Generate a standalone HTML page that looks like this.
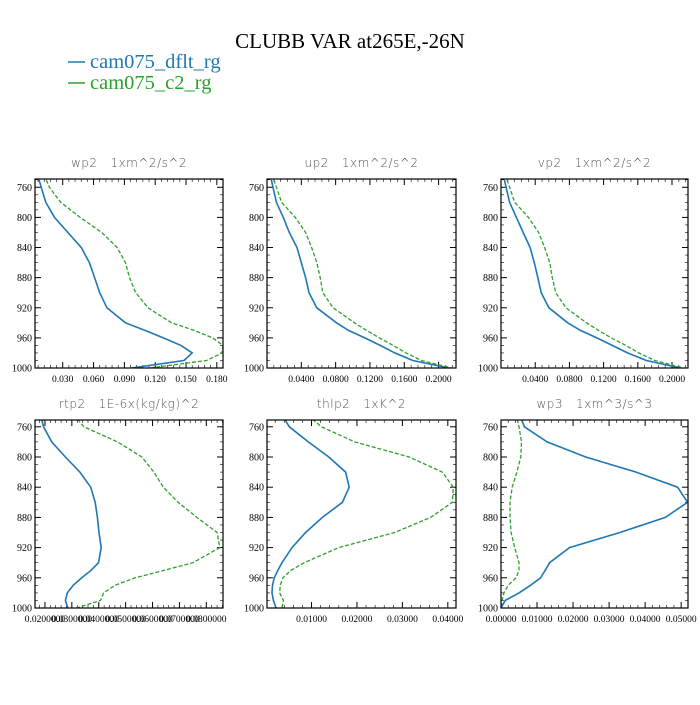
<!DOCTYPE html>
<html><head><meta charset="utf-8"><style>
body{margin:0;background:#fff;width:700px;height:700px;overflow:hidden}
svg text{font-family:"Liberation Serif",serif}
</style></head><body>
<svg id="chart" width="700" height="700" xmlns="http://www.w3.org/2000/svg">
<text x="350" y="48" text-anchor="middle" font-size="21">CLUBB VAR at265E,-26N</text>
<g>
<line x1="68" y1="62" x2="85" y2="62" stroke="#1f77b4" stroke-width="1.5"/>
<text x="90" y="68" font-size="20.5" fill="#1f77b4">cam075_dflt_rg</text>
<line x1="68" y1="83" x2="85" y2="83" stroke="#2ca02c" stroke-width="1.5"/>
<text x="90" y="89" font-size="20.5" fill="#2ca02c">cam075_c2_rg</text>
</g>
</svg>
<script>
const levels=[750,760,780,800,820,840,860,880,900,920,940,950,960,970,980,990,1000];
const yTicks=[760,800,840,880,920,960,1000];
const wp2Dflt=[.007,.009,.0135,.022,.035,.048,.056,.061,.066,.073,.091,.110,.128,.145,.156,.148,.097];
const wp2C2=[.014,.017,.028,.047,.068,.083,.091,.095,.101,.113,.136,.158,.176,.186,.185,.170,.115];
const wp2Ticks=[0.03,0.06,0.09,0.12,0.15,0.18];
const up2Dflt=[.005,.007,.011,.019,.026,.035,.040,.045,.049,.058,.081,.095,.114,.132,.149,.170,.212];
const up2C2=[.008,.011,.017,.033,.045,.052,.058,.062,.065,.077,.102,.116,.131,.147,.162,.180,.215];
const vp2Dflt=[.004,.006,.010,.018,.026,.034,.039,.043,.047,.056,.078,.093,.112,.130,.148,.170,.210];
const vp2C2=[.007,.010,.016,.032,.044,.051,.057,.060,.064,.076,.100,.114,.129,.146,.161,.180,.213];
const uvTicks=[0.04,0.08,0.12,0.16,0.20];
const rtp2Dflt=[.0188,.0195,.0225,.0276,.0330,.0370,.0387,.0395,.0401,.0409,.0399,.0372,.0337,.0305,.0283,.0276,.0285];
const rtp2C2=[.0321,.0345,.0470,.0560,.0605,.0640,.0695,.0765,.0840,.0850,.0750,.0645,.0535,.0460,.0418,.0407,.0318];
const rtp2Ticks=[0.02,0.03,0.04,0.05,0.06,0.07,0.08];
const thlp2Dflt=[.0041,.0051,.0093,.0138,.0175,.0183,.0168,.0124,.0087,.0057,.0035,.0026,.0018,.0014,.0013,.0016,.0022];
const thlp2C2=[.0102,.0122,.0195,.0315,.0388,.0412,.0410,.0362,.0283,.0160,.0084,.0055,.0037,.0031,.0030,.0038,.0035];
const thlp2Ticks=[0.01,0.02,0.03,0.04];
const wp3Dflt=[.0057,.0065,.0128,.0235,.0375,.0490,.0518,.0456,.0330,.0190,.0135,.0123,.0110,.0082,.0050,.0012,0];
const wp3C2=[.0045,.0050,.0057,.0055,.0044,.0031,.0025,.0025,.0028,.0038,.0050,.0050,.0042,.0020,.0008,.0003,0];
const wp3Ticks=[0,0.01,0.02,0.03,0.04,0.05];

const NS='http://www.w3.org/2000/svg';
const svg=document.getElementById('chart');
function mk(tag,attrs,parent){const e=document.createElementNS(NS,tag);for(const k in attrs)e.setAttribute(k,attrs[k]);(parent||svg).appendChild(e);return e;}

const panels=[
 {name:'wp2',title:'wp2   1xm^2/s^2',x0:35,x1:223,y0:179,y1:368,pmin:749,xmin:0.003,xmax:0.186,ticks:wp2Ticks,dec:3,d:wp2Dflt,c:wp2C2},
 {name:'up2',title:'up2   1xm^2/s^2',x0:267,x1:456,y0:179,y1:368,pmin:749,xmin:0.0,xmax:0.2203,ticks:uvTicks,dec:4,d:up2Dflt,c:up2C2},
 {name:'vp2',title:'vp2   1xm^2/s^2',x0:501,x1:688,y0:179,y1:368,pmin:749,xmin:0.0,xmax:0.2187,ticks:uvTicks,dec:4,d:vp2Dflt,c:vp2C2},
 {name:'rtp2',title:'rtp2   1E-6x(kg/kg)^2',x0:35,x1:223,y0:420,y1:608,pmin:751,xmin:0.0163,xmax:0.0862,ticks:rtp2Ticks,dec:7,d:rtp2Dflt,c:rtp2C2},
 {name:'thlp2',title:'thlp2   1xK^2',x0:267,x1:456,y0:420,y1:608,pmin:751,xmin:0.0002,xmax:0.0418,ticks:thlp2Ticks,dec:5,d:thlp2Dflt,c:thlp2C2},
 {name:'wp3',title:'wp3   1xm^3/s^3',x0:501,x1:688,y0:420,y1:608,pmin:751,xmin:0.0,xmax:0.0519,ticks:wp3Ticks,dec:5,d:wp3Dflt,c:wp3C2}
];

panels.forEach(P=>{
 const g=mk('g',{});
 
 
 const xs=v=>P.x0+(v-P.xmin)/(P.xmax-P.xmin)*(P.x1-P.x0);
 const ys=p=>P.y0+(p-P.pmin)/(1000-P.pmin)*(P.y1-P.y0);
 const cp='clip-'+P.name;
 const cl=mk('clipPath',{id:cp},g);
 mk('rect',{x:P.x0,y:P.y0,width:P.x1-P.x0,height:P.y1-P.y0},cl);
 const t=mk('text',{x:(P.x0+P.x1)/2,y:P.y0-12,'text-anchor':'middle','font-size':'12',fill:'#555','style':'font-family:"DejaVu Sans",sans-serif;font-weight:200;letter-spacing:0.5px;white-space:pre'},g);
 t.setAttribute('xml:space','preserve');
 t.textContent=P.title;
 
 
 for(let p=Math.ceil(P.pmin/10)*10;p<=1000;p+=10){
  const y=ys(p);const maj=yTicks.includes(p);const L=maj?6:3;
  mk('line',{x1:P.x0,y1:y,x2:P.x0+L,y2:y,stroke:'#000','stroke-width':maj?1:0.6},g);
  mk('line',{x1:P.x1,y1:y,x2:P.x1-L,y2:y,stroke:'#000','stroke-width':maj?1:0.6},g);
 }
 yTicks.forEach(p=>{
  const tl=mk('text',{x:P.x0-3,y:ys(p)+3.5,'text-anchor':'end','font-size':'10'},g);
  tl.textContent=p;
  
  
 });
 const step=P.ticks[1]-P.ticks[0];
 for(let v=P.ticks[0]-step*5;v<=P.xmax+1e-12;v+=step/5){
  if(v<P.xmin-1e-12)continue;
  const x=xs(v);const k=Math.round((v-P.ticks[0])/step*5);const maj=k%5===0;const L=maj?6:3;
  mk('line',{x1:x,y1:P.y1,x2:x,y2:P.y1-L,stroke:'#000','stroke-width':maj?1:0.6},g);
  mk('line',{x1:x,y1:P.y0,x2:x,y2:P.y0+L,stroke:'#000','stroke-width':maj?1:0.6},g);
 }
 P.ticks.forEach(v=>{
  const tl=mk('text',{x:xs(v),y:P.y1+14,'text-anchor':'middle','font-size':'9.5'},g);
  tl.textContent=v.toFixed(P.dec);
  
  
 });
 const lg=mk('g',{'clip-path':'url(#'+cp+')'},g);
 const pts=arr=>arr.map((v,i)=>xs(v).toFixed(1)+','+ys(levels[i]).toFixed(1)).join(' ');
 const lb=mk('polyline',{points:pts(P.d),fill:'none',stroke:'#1f77b4','stroke-width':1.6},lg);
 
 
 const lc=mk('polyline',{points:pts(P.c),fill:'none',stroke:'#2ca02c','stroke-width':1.3,'stroke-dasharray':'4,2'},lg);
 
 
 const fr=mk('rect',{x:P.x0,y:P.y0,width:P.x1-P.x0,height:P.y1-P.y0,fill:'none',stroke:'#000','stroke-width':1.2},g);
 
 
});
</script>
</body></html>
